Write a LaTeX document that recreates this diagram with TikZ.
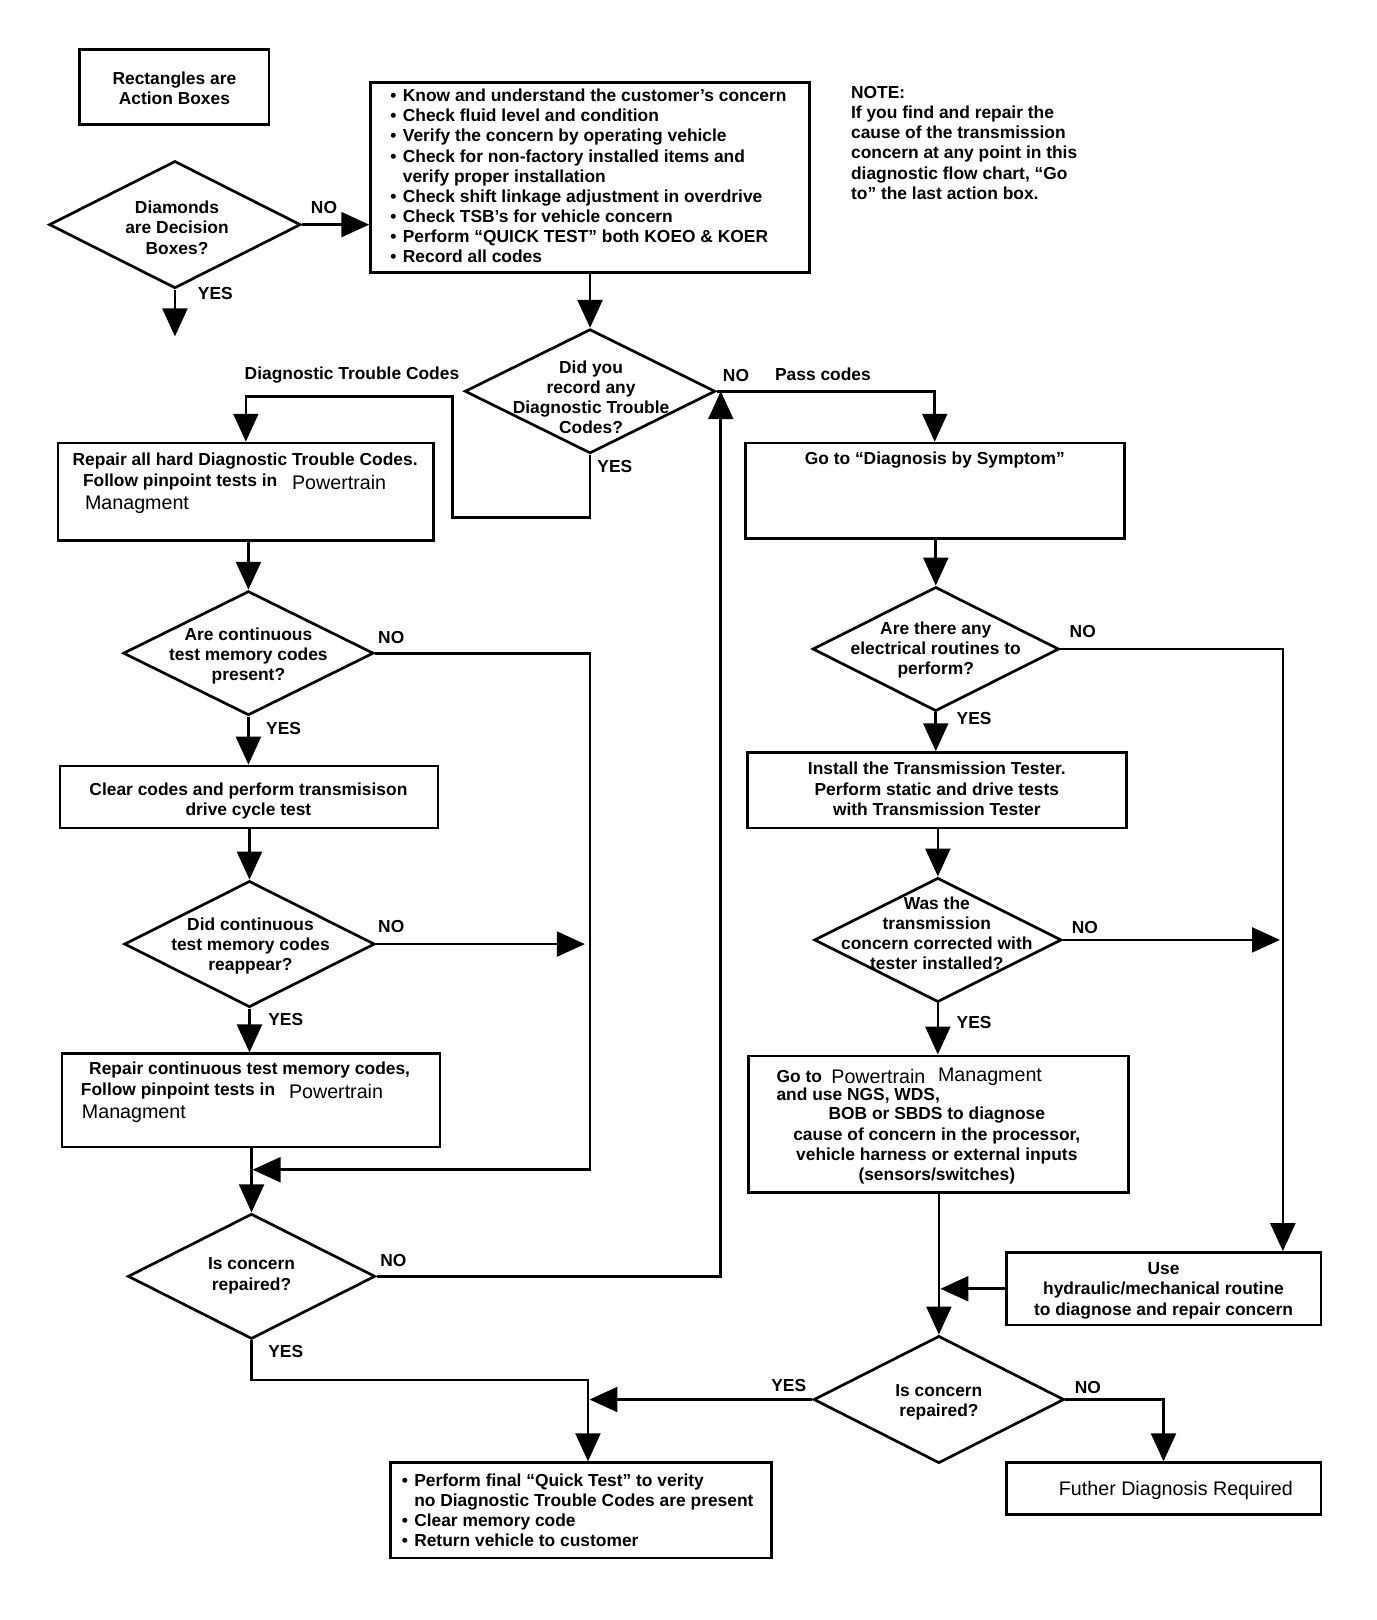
\documentclass[tikz,border=0pt]{standalone}
\usepackage{fontspec}
\setmainfont{Liberation Sans}
\usetikzlibrary{shapes.geometric,arrows.meta,calc}
\newcommand\bul{\makebox[12pt][l]{•}}
\newcommand\ind{\hspace*{12pt}}
\begin{document}
\begin{tikzpicture}[x=1pt,y=-1pt,
 lw/.style={line width=2.6pt},
 box/.style={draw,lw,inner sep=0pt,rectangle},
 dia/.style={draw,lw,diamond,inner sep=0pt},
 txt/.style={font=\fontsize{16.8}{19.5}\selectfont\bfseries,align=center,inner sep=0pt},
 ltxt/.style={font=\fontsize{16.8}{19.5}\selectfont\bfseries,align=left,inner sep=0pt},
 rtxt/.style={font=\fontsize{19}{19.5}\selectfont,inner sep=0pt},
 lbl/.style={font=\fontsize{16.8}{19.5}\selectfont\bfseries,inner sep=0pt},
 arr/.style={lw,-{Triangle[width=24pt,length=27pt]}},
 con/.style={lw}]
\useasboundingbox[fill=white] (0,0) rectangle (1329.5,1565);

% legend
\node[box,minimum width=183pt,minimum height=72pt] (lg) at (168.5,84) {};
\node[txt] (lgt) at (168.5,85) {Rectangles are\\Action Boxes};
\node[dia,minimum width=243pt,minimum height=123pt] (ld) at (169,217) {};
\node[txt] (ldt) at (171,220) {Diamonds\\are Decision\\Boxes?};

% top box
\node[box,minimum width=424pt,minimum height=183pt] (top) at (570,171.5) {};
\node[ltxt,anchor=west] (topt) at (377,170) {\bul Know and understand the customer's concern\\
\bul Check fluid level and condition\\
\bul Verify the concern by operating vehicle\\
\bul Check for non-factory installed items and\\
\ind verify proper installation\\
\bul Check shift linkage adjustment in overdrive\\
\bul Check TSB's for vehicle concern\\
\bul Perform “QUICK TEST” both KOEO \& KOER\\
\bul Record all codes};

% note
\node[ltxt,anchor=west] (note) at (822,138) {NOTE:\\
If you find and repair the\\
cause of the transmission\\
concern at any point in this\\
diagnostic flow chart, “Go\\
to” the last action box.};

% decision 1
\node[dia,minimum width=242pt,minimum height=120pt] (d1) at (570,378) {};
\node[txt] (d1t) at (571,384) {Did you\\record any\\Diagnostic Trouble\\Codes?};

% left column
\node[box,minimum width=363pt,minimum height=94pt] (b1) at (237.5,475) {};
\node[lbl,anchor=west] (b1a) at (70,445) {Repair all hard Diagnostic Trouble Codes.};
\node[lbl,anchor=west] (b1b) at (80,466) {Follow pinpoint tests in};
\node[rtxt,anchor=west] (b1c) at (282,466) {Powertrain};
\node[rtxt,anchor=west] (b1d) at (82,488) {Managment};

\node[dia,minimum width=242pt,minimum height=120pt] (d2) at (240,631) {};
\node[txt] (d2t) at (240,634) {Are continuous\\test memory codes\\present?};

\node[box,minimum width=365pt,minimum height=60pt] (b2) at (240.5,770) {};
\node[txt] (b2t) at (240,773.5) {Clear codes and perform transmisison\\drive cycle test};

\node[dia,minimum width=242pt,minimum height=122pt] (d3) at (241,912) {};
\node[txt] (d3t) at (242,914) {Did continuous\\test memory codes\\reappear?};

\node[box,minimum width=365pt,minimum height=90pt] (b3) at (242.5,1063) {};
\node[lbl,anchor=west] (b3a) at (86,1034) {Repair continuous test memory codes,};
\node[lbl,anchor=west] (b3b) at (78,1054) {Follow pinpoint tests in};
\node[rtxt,anchor=west] (b3c) at (279,1054) {Powertrain};
\node[rtxt,anchor=west] (b3d) at (79,1076) {Managment};

\node[dia,minimum width=239pt,minimum height=121pt] (d4) at (243,1233) {};
\node[txt] (d4t) at (243,1232.5) {Is concern\\repaired?};

\node[box,minimum width=368pt,minimum height=92pt] (fb) at (561,1459) {};
\node[ltxt,anchor=west] (fbt) at (388,1459) {\bul Perform final “Quick Test” to verity\\
\ind no Diagnostic Trouble Codes are present\\
\bul Clear memory code\\
\bul Return vehicle to customer};

% right column
\node[box,minimum width=366pt,minimum height=92pt] (b5) at (903,474) {};
\node[lbl] (b5t) at (903,444) {Go to “Diagnosis by Symptom”};

\node[dia,minimum width=238pt,minimum height=120pt] (d5) at (904,627) {};
\node[txt] (d5t) at (904,628) {Are there any\\electrical routines to\\perform?};

\node[box,minimum width=366pt,minimum height=73pt] (b6) at (905,763.5) {};
\node[txt] (b6t) at (905,762) {Install the Transmission Tester.\\Perform static and drive tests\\with Transmission Tester};

\node[dia,minimum width=239pt,minimum height=120pt] (d6) at (906,908) {};
\node[txt] (d6t) at (905,901.5) {Was the\\transmission\\concern corrected with\\tester installed?};

\node[box,minimum width=367pt,minimum height=132pt] (b7) at (906.5,1086) {};
\node[lbl,anchor=west] (b7a) at (750,1040) {Go to};
\node[rtxt,anchor=west] (b7b) at (803,1040) {Powertrain};
\node[rtxt,anchor=west] (b7c) at (906,1040) {Managment};
\node[lbl,anchor=west] (b7d) at (750,1058) {and use NGS, WDS,};
\node[txt] (b7e) at (905,1106.75) {BOB or SBDS to diagnose\\cause of concern in the processor,\\vehicle harness or external inputs\\(sensors/switches)};

\node[box,minimum width=304pt,minimum height=70pt] (ub) at (1124,1245) {};
\node[txt] (ubt) at (1124,1247) {Use\\hydraulic/mechanical routine\\to diagnose and repair concern};

\node[dia,minimum width=242pt,minimum height=123pt] (d7) at (907,1352) {};
\node[txt] (d7t) at (907,1354.5) {Is concern\\repaired?};

\node[box,minimum width=304pt,minimum height=50pt] (ff) at (1124,1438) {};
\node[rtxt] (fft) at (1136,1440) {Futher Diagnosis Required};

% coordinates
\coordinate (lgend) at (170,325);
\coordinate (y1) at (437,500);
\coordinate (y2) at (437,383);
\coordinate (m1) at (570,1130);
\coordinate (m2) at (244,1130);
\coordinate (n3) at (565,914);
\coordinate (j1) at (568,1333);
\coordinate (n6) at (1236.5,910);

% connectors
\draw[arr] (ld.east) -- (ld.east -| top.west);
\draw[arr] (ld.south) -- (ld.south |- lgend);
\draw[arr] (top.south) -- (d1.north);
\draw[arr] (d1.south) |- (y1) -- (y2) -| (b1.north);
\draw[arr] (d1.east) -| (b5.north);
\draw[arr] (b1.south -| d2.north) -- (d2.north);
\draw[arr] (d2.east) -| (m1) -- (m2);
\draw[arr] (d2.south) -- (b2.north -| d2.south);
\draw[arr] (b2.south -| d3.north) -- (d3.north);
\draw[arr] (d3.east) -- (d3.east -| n3);
\draw[arr] (d3.south) -- (b3.north -| d3.south);
\draw[arr] (b3.south -| d4.north) -- (d4.north);
\draw[arr] (d4.east) -| ([xshift=4pt]d1.east);
\draw[arr] (d4.south) |- (j1) -- (j1 |- fb.north);
\draw[arr] (d7.west) -- ([xshift=1.5pt]d7.west -| j1);
\draw[arr] (b5.south -| d5.north) -- (d5.north);
\draw[arr] (d5.east) -| ([xshift=-38pt]ub.north east);
\draw[arr] (d5.south) -- (b6.north -| d5.south);
\draw[arr] (b6.south -| d6.north) -- (d6.north);
\draw[arr] (d6.east) -- (d6.east -| n6);
\draw[arr] (d6.south) -- (b7.north -| d6.south);
\draw[arr] (b7.south -| d7.north) -- (d7.north);
\draw[arr] (ub.west) -- ([xshift=1.5pt]ub.west -| d7.north);
\draw[arr] (d7.east) -| (ff.north);

% labels
\node[lbl] (l1) at (313,200) {NO};
\node[lbl] (l2) at (208,284) {YES};
\node[lbl] (l3) at (340,362) {Diagnostic Trouble Codes};
\node[lbl] (l4) at (711,363) {NO};
\node[lbl] (l5) at (795,362) {Pass codes};
\node[lbl] (l6) at (594,451) {YES};
\node[lbl] (l7) at (378,616) {NO};
\node[lbl] (l8) at (274,704) {YES};
\node[lbl] (l9) at (378,895) {NO};
\node[lbl] (l10) at (276,985) {YES};
\node[lbl] (l11) at (380,1218) {NO};
\node[lbl] (l12) at (276,1306) {YES};
\node[lbl] (l13) at (1046,610) {NO};
\node[lbl] (l14) at (941,694) {YES};
\node[lbl] (l15) at (1048,896) {NO};
\node[lbl] (l16) at (941,988) {YES};
\node[lbl] (l17) at (762,1338) {YES};
\node[lbl] (l18) at (1051,1340) {NO};
\end{tikzpicture}
\end{document}
